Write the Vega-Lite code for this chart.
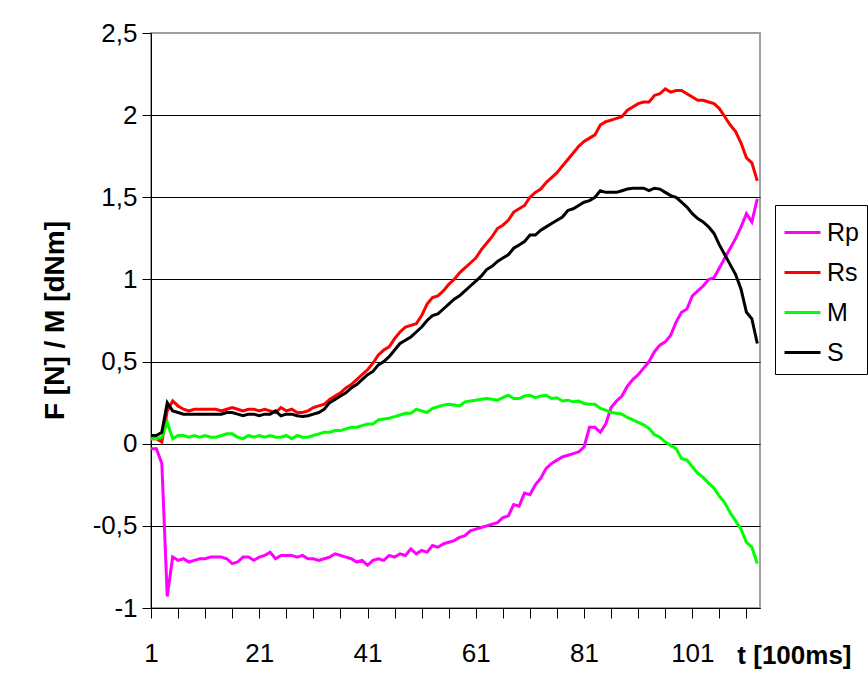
{
  "$schema": "https://vega.github.io/schema/vega-lite/v6.json",
  "width": 609,
  "height": 575,
  "autosize": {"type": "none"},
  "padding": {"left": 151, "top": 33, "right": 108, "bottom": 70},
  "background": "white",
  "config": {"view": {"stroke": "#a0a0a0", "strokeWidth": 2}, "font": "Liberation Sans"},
  "data": {"values": [
    {"t":1,"Rp":-0.03,"Rs":0.03,"M":0.03,"S":0.05},
    {"t":2,"Rp":-0.03,"Rs":0.03,"M":0.03,"S":0.05},
    {"t":3,"Rp":-0.12,"Rs":0.01,"M":0.04,"S":0.07},
    {"t":4,"Rp":-0.93,"Rs":0.20,"M":0.13,"S":0.25},
    {"t":5,"Rp":-0.69,"Rs":0.26,"M":0.03,"S":0.20},
    {"t":6,"Rp":-0.71,"Rs":0.23,"M":0.05,"S":0.19},
    {"t":7,"Rp":-0.70,"Rs":0.21,"M":0.05,"S":0.18},
    {"t":8,"Rp":-0.72,"Rs":0.20,"M":0.04,"S":0.18},
    {"t":9,"Rp":-0.71,"Rs":0.21,"M":0.05,"S":0.18},
    {"t":10,"Rp":-0.70,"Rs":0.21,"M":0.04,"S":0.18},
    {"t":11,"Rp":-0.70,"Rs":0.21,"M":0.05,"S":0.18},
    {"t":12,"Rp":-0.69,"Rs":0.21,"M":0.04,"S":0.18},
    {"t":13,"Rp":-0.69,"Rs":0.21,"M":0.04,"S":0.18},
    {"t":14,"Rp":-0.69,"Rs":0.20,"M":0.05,"S":0.18},
    {"t":15,"Rp":-0.70,"Rs":0.21,"M":0.06,"S":0.19},
    {"t":16,"Rp":-0.73,"Rs":0.22,"M":0.06,"S":0.19},
    {"t":17,"Rp":-0.72,"Rs":0.21,"M":0.04,"S":0.18},
    {"t":18,"Rp":-0.69,"Rs":0.20,"M":0.03,"S":0.17},
    {"t":19,"Rp":-0.69,"Rs":0.21,"M":0.05,"S":0.18},
    {"t":20,"Rp":-0.71,"Rs":0.21,"M":0.04,"S":0.18},
    {"t":21,"Rp":-0.69,"Rs":0.20,"M":0.05,"S":0.17},
    {"t":22,"Rp":-0.68,"Rs":0.21,"M":0.04,"S":0.18},
    {"t":23,"Rp":-0.66,"Rs":0.20,"M":0.05,"S":0.18},
    {"t":24,"Rp":-0.70,"Rs":0.19,"M":0.04,"S":0.20},
    {"t":25,"Rp":-0.68,"Rs":0.22,"M":0.04,"S":0.17},
    {"t":26,"Rp":-0.68,"Rs":0.20,"M":0.05,"S":0.18},
    {"t":27,"Rp":-0.68,"Rs":0.21,"M":0.03,"S":0.18},
    {"t":28,"Rp":-0.69,"Rs":0.19,"M":0.05,"S":0.17},
    {"t":29,"Rp":-0.68,"Rs":0.19,"M":0.04,"S":0.165},
    {"t":30,"Rp":-0.70,"Rs":0.20,"M":0.04,"S":0.17},
    {"t":31,"Rp":-0.70,"Rs":0.22,"M":0.05,"S":0.18},
    {"t":32,"Rp":-0.71,"Rs":0.23,"M":0.06,"S":0.19},
    {"t":33,"Rp":-0.70,"Rs":0.24,"M":0.07,"S":0.21},
    {"t":34,"Rp":-0.69,"Rs":0.27,"M":0.07,"S":0.25},
    {"t":35,"Rp":-0.67,"Rs":0.29,"M":0.08,"S":0.27},
    {"t":36,"Rp":-0.68,"Rs":0.31,"M":0.08,"S":0.29},
    {"t":37,"Rp":-0.69,"Rs":0.34,"M":0.09,"S":0.31},
    {"t":38,"Rp":-0.70,"Rs":0.36,"M":0.10,"S":0.34},
    {"t":39,"Rp":-0.72,"Rs":0.39,"M":0.10,"S":0.36},
    {"t":40,"Rp":-0.71,"Rs":0.42,"M":0.11,"S":0.39},
    {"t":41,"Rp":-0.74,"Rs":0.45,"M":0.12,"S":0.42},
    {"t":42,"Rp":-0.71,"Rs":0.49,"M":0.12,"S":0.44},
    {"t":43,"Rp":-0.70,"Rs":0.54,"M":0.145,"S":0.48},
    {"t":44,"Rp":-0.71,"Rs":0.57,"M":0.15,"S":0.50},
    {"t":45,"Rp":-0.68,"Rs":0.59,"M":0.155,"S":0.53},
    {"t":46,"Rp":-0.69,"Rs":0.64,"M":0.165,"S":0.57},
    {"t":47,"Rp":-0.67,"Rs":0.68,"M":0.175,"S":0.61},
    {"t":48,"Rp":-0.68,"Rs":0.71,"M":0.185,"S":0.63},
    {"t":49,"Rp":-0.64,"Rs":0.72,"M":0.185,"S":0.65},
    {"t":50,"Rp":-0.67,"Rs":0.73,"M":0.21,"S":0.68},
    {"t":51,"Rp":-0.65,"Rs":0.78,"M":0.20,"S":0.71},
    {"t":52,"Rp":-0.66,"Rs":0.85,"M":0.19,"S":0.75},
    {"t":53,"Rp":-0.62,"Rs":0.89,"M":0.215,"S":0.78},
    {"t":54,"Rp":-0.63,"Rs":0.90,"M":0.225,"S":0.79},
    {"t":55,"Rp":-0.61,"Rs":0.93,"M":0.235,"S":0.82},
    {"t":56,"Rp":-0.60,"Rs":0.97,"M":0.24,"S":0.85},
    {"t":57,"Rp":-0.59,"Rs":1.00,"M":0.235,"S":0.88},
    {"t":58,"Rp":-0.57,"Rs":1.04,"M":0.23,"S":0.90},
    {"t":59,"Rp":-0.56,"Rs":1.07,"M":0.255,"S":0.93},
    {"t":60,"Rp":-0.53,"Rs":1.10,"M":0.26,"S":0.96},
    {"t":61,"Rp":-0.52,"Rs":1.13,"M":0.265,"S":0.99},
    {"t":62,"Rp":-0.51,"Rs":1.18,"M":0.27,"S":1.02},
    {"t":63,"Rp":-0.50,"Rs":1.22,"M":0.275,"S":1.06},
    {"t":64,"Rp":-0.49,"Rs":1.26,"M":0.27,"S":1.08},
    {"t":65,"Rp":-0.48,"Rs":1.31,"M":0.265,"S":1.11},
    {"t":66,"Rp":-0.45,"Rs":1.33,"M":0.28,"S":1.13},
    {"t":67,"Rp":-0.44,"Rs":1.36,"M":0.295,"S":1.15},
    {"t":68,"Rp":-0.37,"Rs":1.41,"M":0.275,"S":1.19},
    {"t":69,"Rp":-0.38,"Rs":1.43,"M":0.275,"S":1.21},
    {"t":70,"Rp":-0.30,"Rs":1.45,"M":0.29,"S":1.23},
    {"t":71,"Rp":-0.31,"Rs":1.50,"M":0.295,"S":1.27},
    {"t":72,"Rp":-0.25,"Rs":1.53,"M":0.28,"S":1.27},
    {"t":73,"Rp":-0.21,"Rs":1.55,"M":0.29,"S":1.30},
    {"t":74,"Rp":-0.15,"Rs":1.59,"M":0.295,"S":1.32},
    {"t":75,"Rp":-0.12,"Rs":1.62,"M":0.275,"S":1.34},
    {"t":76,"Rp":-0.10,"Rs":1.65,"M":0.28,"S":1.36},
    {"t":77,"Rp":-0.08,"Rs":1.69,"M":0.26,"S":1.38},
    {"t":78,"Rp":-0.07,"Rs":1.73,"M":0.265,"S":1.42},
    {"t":79,"Rp":-0.06,"Rs":1.77,"M":0.255,"S":1.43},
    {"t":80,"Rp":-0.05,"Rs":1.81,"M":0.26,"S":1.45},
    {"t":81,"Rp":-0.02,"Rs":1.84,"M":0.245,"S":1.47},
    {"t":82,"Rp":0.10,"Rs":1.86,"M":0.24,"S":1.48},
    {"t":83,"Rp":0.10,"Rs":1.88,"M":0.24,"S":1.50},
    {"t":84,"Rp":0.07,"Rs":1.94,"M":0.215,"S":1.54},
    {"t":85,"Rp":0.12,"Rs":1.96,"M":0.205,"S":1.53},
    {"t":86,"Rp":0.22,"Rs":1.97,"M":0.19,"S":1.53},
    {"t":87,"Rp":0.26,"Rs":1.98,"M":0.185,"S":1.53},
    {"t":88,"Rp":0.29,"Rs":1.99,"M":0.18,"S":1.54},
    {"t":89,"Rp":0.35,"Rs":2.03,"M":0.16,"S":1.55},
    {"t":90,"Rp":0.39,"Rs":2.05,"M":0.145,"S":1.555},
    {"t":91,"Rp":0.42,"Rs":2.07,"M":0.13,"S":1.555},
    {"t":92,"Rp":0.46,"Rs":2.08,"M":0.115,"S":1.555},
    {"t":93,"Rp":0.50,"Rs":2.08,"M":0.094,"S":1.54},
    {"t":94,"Rp":0.56,"Rs":2.12,"M":0.055,"S":1.555},
    {"t":95,"Rp":0.60,"Rs":2.13,"M":0.04,"S":1.55},
    {"t":96,"Rp":0.62,"Rs":2.16,"M":0.01,"S":1.53},
    {"t":97,"Rp":0.66,"Rs":2.14,"M":-0.01,"S":1.51},
    {"t":98,"Rp":0.74,"Rs":2.15,"M":-0.03,"S":1.50},
    {"t":99,"Rp":0.80,"Rs":2.15,"M":-0.09,"S":1.47},
    {"t":100,"Rp":0.82,"Rs":2.13,"M":-0.10,"S":1.44},
    {"t":101,"Rp":0.90,"Rs":2.11,"M":-0.14,"S":1.40},
    {"t":102,"Rp":0.93,"Rs":2.09,"M":-0.18,"S":1.37},
    {"t":103,"Rp":0.96,"Rs":2.09,"M":-0.205,"S":1.35},
    {"t":104,"Rp":1.00,"Rs":2.08,"M":-0.24,"S":1.32},
    {"t":105,"Rp":1.01,"Rs":2.07,"M":-0.27,"S":1.28},
    {"t":106,"Rp":1.07,"Rs":2.04,"M":-0.32,"S":1.21},
    {"t":107,"Rp":1.13,"Rs":1.99,"M":-0.36,"S":1.15},
    {"t":108,"Rp":1.19,"Rs":1.94,"M":-0.42,"S":1.09},
    {"t":109,"Rp":1.25,"Rs":1.90,"M":-0.47,"S":1.03},
    {"t":110,"Rp":1.32,"Rs":1.83,"M":-0.52,"S":0.94},
    {"t":111,"Rp":1.40,"Rs":1.74,"M":-0.60,"S":0.80},
    {"t":112,"Rp":1.35,"Rs":1.71,"M":-0.63,"S":0.76},
    {"t":113,"Rp":1.49,"Rs":1.60,"M":-0.73,"S":0.61}
  ]},
  "transform": [{"fold": ["Rp", "Rs", "M", "S"], "as": ["series", "value"]}],
  "mark": {"type": "line", "strokeWidth": 3, "clip": true},
  "encoding": {
    "x": {
      "field": "t", "type": "quantitative",
      "scale": {"domain": [1, 113.5], "nice": false, "zero": false},
      "axis": {
        "values": [1,6,11,16,21,26,31,36,41,46,51,56,61,66,71,76,81,86,91,96,101,106,111],
        "labelExpr": "(datum.value - 1) % 20 == 0 ? datum.label : ''",
        "grid": false,
        "domainColor": "black", "domainWidth": 1,
        "tickColor": "black", "tickSize": 10, "tickWidth": 1,
        "labelFontSize": 26, "labelColor": "black", "labelPadding": 22,
        "labelFlush": false, "labelOverlap": false,
        "title": "t  [100ms]", "titleFontSize": 26, "titleFontWeight": "bold", "titleColor": "black",
        "titleX": 700, "titleY": 47, "titleAlign": "right", "titleBaseline": "middle", "titleAnchor": null
      }
    },
    "y": {
      "field": "value", "type": "quantitative",
      "scale": {"domain": [-1, 2.5], "nice": false, "zero": false},
      "axis": {
        "values": [-1, -0.5, 0, 0.5, 1, 1.5, 2, 2.5],
        "labelExpr": "replace(toString(datum.value), '.', ',')",
        "gridColor": {"condition": {"test": "datum.value == 2.5", "value": "#a0a0a0"}, "value": "black"},
        "gridWidth": 1,
        "domainColor": "black", "domainWidth": 1,
        "tickColor": "black", "tickSize": 9, "tickWidth": 1,
        "labelFontSize": 26, "labelColor": "black", "labelPadding": 5,
        "labelFlush": false, "labelOverlap": false,
        "title": "F  [N] / M   [dNm]", "titleFontSize": 28, "titleFontWeight": "bold", "titleColor": "black",
        "titleX": -96, "titleY": 287, "titleAngle": -90, "titleAlign": "center", "titleBaseline": "middle", "titleAnchor": null
      }
    },
    "color": {
      "field": "series", "type": "nominal",
      "scale": {"domain": ["Rp", "Rs", "M", "S"], "range": ["#ff00ff", "#ff0000", "#00ff00", "#000000"]},
      "legend": {
        "title": null, "orient": "none", "legendX": 624, "legendY": 172,
        "strokeColor": "black", "fillColor": "white", "padding": 8,
        "symbolType": "stroke", "symbolSize": 1296, "symbolStrokeWidth": 3,
        "labelFontSize": 25, "labelColor": "black", "labelOffset": 5, "rowPadding": 7
      }
    }
  }
}
